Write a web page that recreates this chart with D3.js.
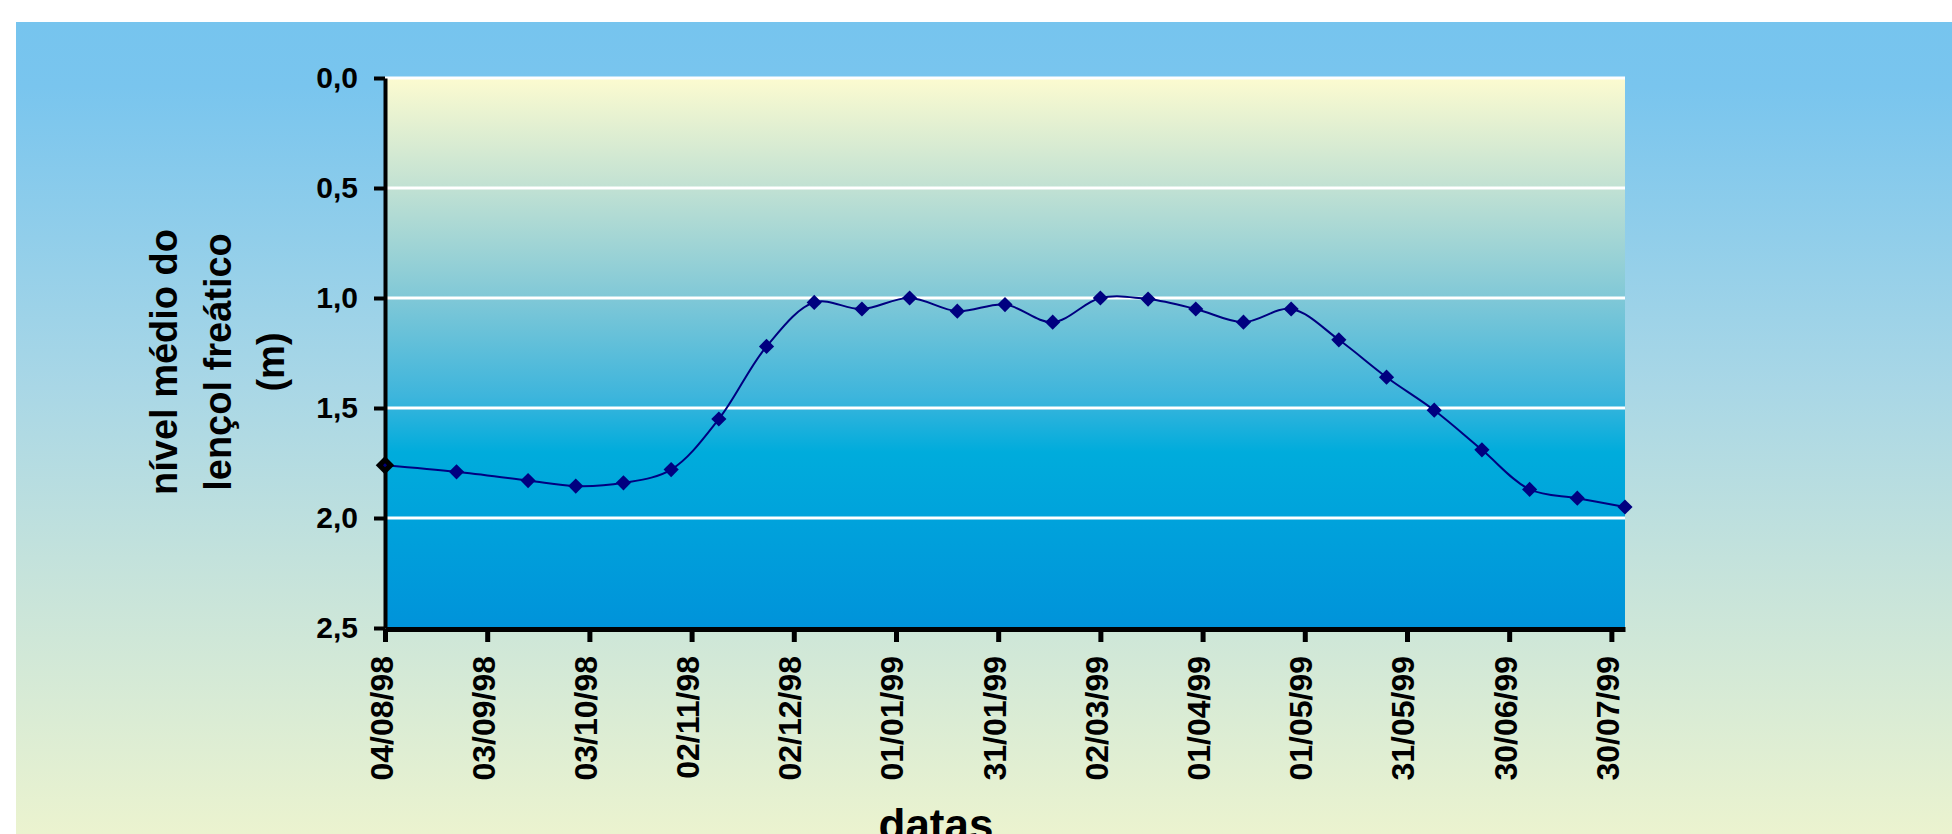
<!DOCTYPE html>
<html>
<head>
<meta charset="utf-8">
<script src="https://cdn.jsdelivr.net/npm/d3@7"></script>
<style>
  body { margin: 0; background: #fff; }
  svg { display: block; font-family: "Liberation Sans", Arial, sans-serif; }
</style>
</head>
<body>
<svg width="1952" height="834"></svg>
<script>
// biweekly readings of the water table depth
const sampleDates = [
    "1998-08-04", "1998-08-25", "1998-09-15", "1998-09-29", "1998-10-13", "1998-10-27",
    "1998-11-10", "1998-11-24", "1998-12-08", "1998-12-22", "1999-01-05", "1999-01-19",
    "1999-02-02", "1999-02-16", "1999-03-02", "1999-03-16", "1999-03-30", "1999-04-13",
    "1999-04-27", "1999-05-11", "1999-05-25", "1999-06-08", "1999-06-22", "1999-07-06",
    "1999-07-20", "1999-08-03"
];
const levels = [
    1.76, 1.79, 1.83, 1.855, 1.84, 1.78,
    1.55, 1.22, 1.02, 1.05, 1.00, 1.06,
    1.03, 1.11, 1.00, 1.005, 1.05, 1.11,
    1.05, 1.19, 1.36, 1.51, 1.69, 1.87,
    1.91, 1.95
];
const xTickDates = [
    "1998-08-04", "1998-09-03", "1998-10-03", "1998-11-02", "1998-12-02", "1999-01-01",
    "1999-01-31", "1999-03-02", "1999-04-01", "1999-05-01", "1999-05-31", "1999-06-30",
    "1999-07-30"
];
const yTicks = [0, 0.5, 1, 1.5, 2, 2.5];
const yTitleLines = ["nível médio do", "lençol freático", "(m)"];
const xTitle = "datas";

const parse = d3.timeParse("%Y-%m-%d");
const data = sampleDates.map((d, i) => ({ date: parse(d), level: levels[i] }));

const svg = d3.select("svg");

const plotLeft = 385, plotRight = 1625, plotTop = 78, plotBottom = 628;

const x = d3.scaleTime()
    .domain([parse("1998-08-04"), parse("1999-08-03")])
    .range([plotLeft, plotRight]);

const y = d3.scaleLinear()
    .domain([0, 2.5])
    .range([plotTop, plotBottom]);

const defs = svg.append("defs");

const bgGrad = defs.append("linearGradient")
    .attr("id", "bgGrad")
    .attr("x1", 0).attr("y1", 0).attr("x2", 0).attr("y2", 1);
[[0, "#76c4ee"], [0.08, "#79c5ee"], [0.45, "#a9d7e6"], [0.7, "#c8e4da"], [1, "#ebf3cf"]]
    .forEach(s => bgGrad.append("stop").attr("offset", s[0]).attr("stop-color", s[1]));

const plotGrad = defs.append("linearGradient")
    .attr("id", "plotGrad")
    .attr("x1", 0).attr("y1", 0).attr("x2", 0).attr("y2", 1);
[[0, "#fcfbd0"], [0.2, "#c1e1d3"], [0.4, "#80c8d7"], [0.58, "#3db5dc"], [0.68, "#00acdc"], [1, "#0093da"]]
    .forEach(s => plotGrad.append("stop").attr("offset", s[0]).attr("stop-color", s[1]));

// chart area background
svg.append("rect")
    .attr("x", 16)
    .attr("y", 22)
    .attr("width", 1952 - 16)
    .attr("height", 834 - 22)
    .attr("fill", "url(#bgGrad)");

// plot area
svg.append("rect")
    .attr("x", plotLeft)
    .attr("y", plotTop)
    .attr("width", plotRight - plotLeft)
    .attr("height", plotBottom - plotTop)
    .attr("fill", "url(#plotGrad)");

svg.append("g")
    .selectAll("line")
    .data(yTicks.filter(t => t < 2.5))
    .enter()
    .append("line")
    .attr("x1", plotLeft)
    .attr("x2", plotRight)
    .attr("y1", d => y(d))
    .attr("y2", d => y(d))
    .attr("stroke", "#fff")
    .attr("stroke-width", 3);

const line = d3.line()
    .x(d => x(d.date))
    .y(d => y(d.level))
    .curve(d3.curveCatmullRom.alpha(0.5));

svg.append("path")
    .datum(data)
    .attr("d", line)
    .attr("fill", "none")
    .attr("stroke", "#000080")
    .attr("stroke-width", 2);

// axes
const commaFormat = d3.formatLocale({ decimal: ",", thousands: ".", grouping: [3], currency: ["", ""] }).format(".1f");

const yAxis = svg.append("g")
    .attr("transform", `translate(${plotLeft}, 0)`)
    .call(d3.axisLeft(y).tickValues(yTicks).tickSize(11).tickSizeOuter(0).tickPadding(16).tickFormat(commaFormat));

yAxis.select(".domain").attr("stroke", "#000").attr("stroke-width", 4);
yAxis.selectAll(".tick line").attr("stroke", "#000").attr("stroke-width", 4);
yAxis.selectAll(".tick text")
    .attr("font-size", "30px")
    .attr("font-weight", "bold")
    .attr("fill", "#000")
    .attr("font-family", "Liberation Sans, Arial, sans-serif");

const xAxis = svg.append("g")
    .attr("transform", `translate(0, ${plotBottom + 1})`)
    .call(d3.axisBottom(x).tickValues(xTickDates.map(parse)).tickSize(13).tickSizeOuter(0).tickFormat(d3.timeFormat("%d/%m/%y")));

xAxis.select(".domain").attr("stroke", "#000").attr("stroke-width", 5);
xAxis.selectAll(".tick line").attr("stroke", "#000").attr("stroke-width", 5);
xAxis.selectAll(".tick text")
    .attr("y", null)
    .attr("dy", null)
    .attr("text-anchor", "end")
    .attr("transform", "translate(7, 27) rotate(-90)")
    .attr("font-size", "32px")
    .attr("font-weight", "bold")
    .attr("fill", "#000")
    .attr("font-family", "Liberation Sans, Arial, sans-serif");

// markers on top of the axes
const diamond = d3.symbol().type(d3.symbolSquare);

svg.append("g")
    .selectAll("path")
    .data(data)
    .enter()
    .append("path")
    .attr("transform", d => `translate(${x(d.date)}, ${y(d.level)}) rotate(45)`)
    .attr("d", (d, i) => diamond.size(i === 0 ? 170 : 115)())
    .attr("fill", (d, i) => i === 0 ? "#000" : "#000080");

svg.append("g")
    .selectAll("path")
    .data(data.slice(0, 1))
    .enter()
    .append("path")
    .attr("transform", d => `translate(${x(d.date)}, ${y(d.level)}) rotate(45)`)
    .attr("d", diamond.size(8)())
    .attr("fill", "#000080");

// titles
svg.append("g")
    .selectAll("text")
    .data(yTitleLines)
    .enter()
    .append("text")
    .attr("transform", (d, i) => `translate(${177 + i * 53.5}, 362) rotate(-90)`)
    .attr("text-anchor", "middle")
    .attr("font-size", "38px")
    .attr("font-weight", "bold")
    .attr("fill", "#000")
    .text(d => d);

svg.append("text")
    .attr("x", 936)
    .attr("y", 840)
    .attr("text-anchor", "middle")
    .attr("font-size", "44px")
    .attr("font-weight", "bold")
    .attr("fill", "#000")
    .text(xTitle);
</script>
</body>
</html>
